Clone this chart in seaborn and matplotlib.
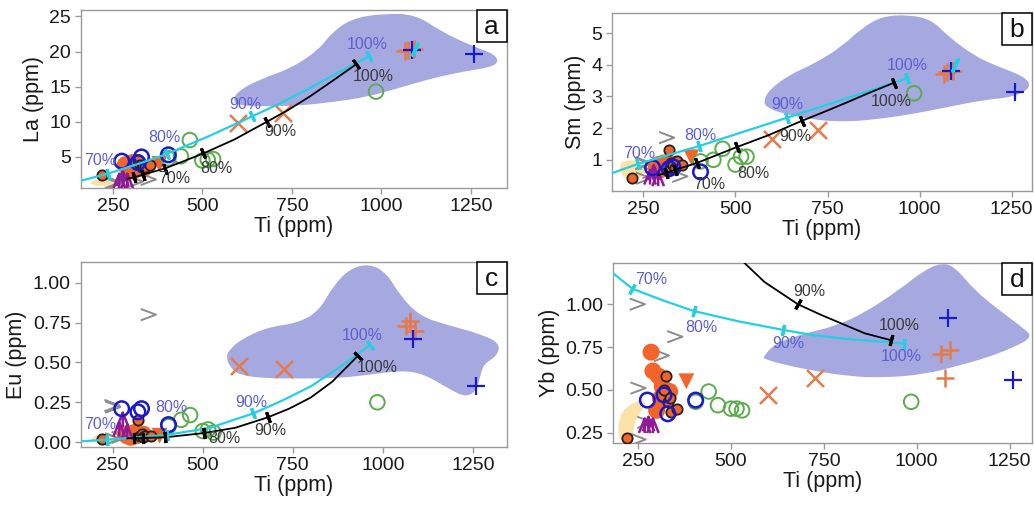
import numpy as np
import pandas as pd
import matplotlib
matplotlib.use("Agg")
import matplotlib.pyplot as plt
import seaborn as sns
from matplotlib.path import Path
from matplotlib.patches import Rectangle, PathPatch
from matplotlib.ticker import FormatStrFormatter

# ------------------------------------------------------------------ data
PANELS = ["a", "b", "c", "d"]
Y_LABELS = {"a": "La (ppm)", "b": "Sm (ppm)", "c": "Eu (ppm)", "d": "Yb (ppm)"}
X_LABEL = "Ti (ppm)"
X_TICKS = [250, 500, 750, 1000, 1250]
Y_TICKS = {"a": [5, 10, 15, 20, 25], "b": [1, 2, 3, 4, 5],
           "c": [0.00, 0.25, 0.50, 0.75, 1.00], "d": [0.25, 0.50, 0.75, 1.00]}

# model curve 1 (cyan)
CYAN_TI = [160, 235, 320, 400, 520, 640, 720, 800, 880, 965]
CYAN_VAL = {"a": [1.6, 2.6, 4.0, 5.4, 8.0, 10.8, 12.7, 14.8, 17.0, 19.3],
            "b": [0.56, 0.87, 1.16, 1.43, 1.88, 2.33, 2.63, 2.93, 3.24, 3.57],
            "c": [0.005, 0.015, 0.03, 0.045, 0.09, 0.18, 0.26, 0.35, 0.47, 0.61],
            "d": [1.22, 1.09, 1.02, 0.96, 0.90, 0.85, 0.82, 0.80, 0.785, 0.77]}
CYAN_TICK_TI = [235, 400, 640, 965]
CYAN_TICK_LABELS = ["70%", "80%", "90%", "100%"]

# model curve 2 (black)
BLACK_TI = [290, 310, 335, 395, 503, 590, 680, 740, 800, 860, 930]
BLACK_VAL = {"a": [1.9, 2.1, 2.5, 3.35, 5.5, 7.5, 10.0, 11.7, 13.6, 15.7, 18.2],
             "b": [0.52, 0.58, 0.68, 0.90, 1.40, 1.78, 2.23, 2.51, 2.80, 3.10, 3.43],
             "c": [0.025, 0.025, 0.027, 0.03, 0.057, 0.09, 0.155, 0.21, 0.28, 0.38, 0.54],
             "d": [np.nan, np.nan, np.nan, np.nan, 1.31, 1.13, 1.00, 0.94, 0.885, 0.83, 0.79]}
BLACK_TICK_TI = [310, 335, 395, 503, 680, 930]
BLACK_TICK_LABELS = ["", "", "70%", "80%", "90%", "100%"]

# sample groups
BLUE_O_TI = [275, 320, 330, 405]
BLUE_O = {"a": [4.4, 4.2, 5.0, 5.3], "b": [0.75, 0.72, 0.78, 0.62],
          "c": [0.21, 0.19, 0.21, 0.11], "d": [0.44, 0.47, 0.36, 0.44]}

GREEN_O_TI = [405, 440, 465, 500, 515, 530, 985]
GREEN_O = {"a": [4.8, 5.1, 7.4, 4.5, 4.6, 4.7, 14.3],
           "b": [0.95, 1.0, 1.35, 0.85, 1.1, 1.1, 3.1],
           "c": [0.10, 0.14, 0.17, 0.07, 0.08, 0.06, 0.25],
           "d": [0.43, 0.49, 0.41, 0.39, 0.39, 0.38, 0.43]}

ORANGE_X_TI = [600, 725]
ORANGE_X = {"a": [9.8, 11.3], "b": [1.65, 1.95], "c": [0.48, 0.46], "d": [0.47, 0.57]}

ORANGE_P_TI = [1065, 1075, 1090]
ORANGE_P = {"a": [20.1, 20.2, 20.3], "b": [3.72, 3.78, 3.80],
            "c": [0.73, 0.76, 0.70], "d": [0.71, 0.57, 0.73]}

BLUE_P_TI = [1085, 1260]
BLUE_P = {"a": [20.2, 19.6], "b": [3.8, 3.15], "c": [0.65, 0.35], "d": [0.92, 0.56]}

ORANGE_F_TI = [285, 290, 300, 305, 315, 335, 310]
ORANGE_F = {"a": [3.9, 3.5, 3.0, 4.2, 3.6, 3.3, 3.1],
            "b": [0.80, 0.85, 0.70, 0.90, 0.90, 0.85, 0.75],
            "c": [0.05, 0.04, 0.03, 0.05, 0.04, 0.05, 0.06],
            "d": [0.72, 0.61, 0.38, 0.58, 0.52, 0.49, 0.45]}

ORANGE_E_TI = [220, 320, 325, 330, 335, 340, 355]
ORANGE_E = {"a": [2.4, 4.6, 3.8, 3.5, 3.7, 3.6, 3.8],
            "b": [0.43, 1.30, 0.90, 0.85, 0.75, 0.95, 0.85],
            "c": [0.02, 0.14, 0.04, 0.05, 0.03, 0.04, 0.04],
            "d": [0.22, 0.50, 0.58, 0.43, 0.45, 0.37, 0.39]}

ORANGE_T_TI = [380]
ORANGE_T = {"a": [4.0], "b": [1.08], "c": [0.04], "d": [0.55]}

PURPLE_TI = [268, 278, 290]
PURPLE = {"a": [1.6, 1.9, 1.6], "b": [0.45, 0.60, 0.40],
          "c": [0.08, 0.14, 0.06], "d": [0.29, 0.30, 0.29]}

GRAY_TI = [248, 349, 313, 250, 268, 250]
GRAY = {"a": [1.3, 1.8, 1.5, 1.2, 1.0, 1.4],
        "b": [0.88, 0.48, 1.70, 0.42, 0.60, 0.90],
        "c": [0.23, 0.80, 0.03, 0.22, 0.03, 0.02],
        "d": [1.00, 0.81, 0.70, 0.51, 0.31, 0.21]}

CYAN_PT_TI = [1095]
CYAN_PT = {"a": [20.3], "b": [4.0], "c": [np.nan], "d": [np.nan]}

# field outlines (Ti, value)
FIELD_TI = {
    "a": [584, 603, 659, 751, 826, 863, 919, 1002, 1095, 1169, 1253, 1318, 1327, 1299, 1234, 1141, 1049, 956, 863, 770, 677, 603],
    "b": [577, 591, 645, 717, 789, 843, 898, 970, 1033, 1078, 1151, 1214, 1286, 1304, 1259, 1169, 1078, 988, 898, 807, 717, 627, 582],
    "c": [575, 603, 677, 769, 825, 862, 909, 964, 1011, 1048, 1103, 1187, 1270, 1326, 1317, 1280, 1270, 1261, 1233, 1187, 1113, 1048, 955, 862, 769, 677, 603, 575, 565],
    "d": [586, 618, 698, 779, 860, 950, 1021, 1066, 1102, 1156, 1219, 1281, 1313, 1263, 1192, 1111, 1021, 905, 815, 725, 636, 591],
}
FIELD_VAL = {
    "a": [13.1, 14.5, 16.0, 17.7, 20.3, 22.8, 24.7, 25.4, 25.3, 22.8, 20.8, 19.6, 18.4, 17.7, 17.2, 16.2, 14.8, 13.5, 12.8, 12.3, 12.2, 12.3],
    "b": [2.88, 3.2, 3.68, 4.05, 4.58, 5.16, 5.53, 5.58, 5.42, 4.89, 4.26, 3.94, 3.62, 3.3, 2.99, 2.88, 2.67, 2.46, 2.30, 2.20, 2.25, 2.46, 2.67],
    "c": [0.58, 0.64, 0.72, 0.75, 0.83, 0.98, 1.09, 1.12, 1.06, 0.92, 0.79, 0.73, 0.68, 0.62, 0.54, 0.49, 0.41, 0.33, 0.28, 0.33, 0.43, 0.45, 0.42, 0.40, 0.40, 0.40, 0.42, 0.47, 0.54],
    "d": [0.69, 0.77, 0.83, 0.87, 0.95, 1.08, 1.20, 1.24, 1.22, 1.08, 0.97, 0.87, 0.81, 0.75, 0.69, 0.64, 0.59, 0.57, 0.58, 0.61, 0.65, 0.68],
}

YELLOW_TI = {"a": [180, 230, 260, 250, 200],
             "b": [184, 230, 262, 258, 225, 190],
             "c": [185, 220, 260, 255, 200],
             "d": [268, 214, 195, 201, 236, 236, 246, 268]}
YELLOW_VAL = {"a": [1.5, 2.0, 1.6, 1.0, 0.8],
              "b": [0.95, 1.0, 0.9, 0.55, 0.35, 0.45],
              "c": [0.02, 0.06, 0.05, 0.0, -0.01],
              "d": [0.452, 0.40, 0.306, 0.19, 0.166, 0.265, 0.34, 0.40]}

# ------------------------------------------------------------------ style
POS = {"a": [0.078, 0.628, 0.412, 0.352], "b": [0.592, 0.622, 0.406, 0.352],
       "c": [0.078, 0.115, 0.412, 0.366], "d": [0.593, 0.123, 0.405, 0.356]}
XLIM = {"a": (160, 1350), "b": (165, 1305), "c": (161, 1344), "d": (183, 1310)}
YLIM = {"a": (0.6, 25.9), "b": (0.02, 5.63), "c": (-0.03, 1.13), "d": (0.19, 1.24)}
CYAN_OFF = {"a": [(-7, 13), (-2, 17), (-7, 12), (-2, 12)],
            "b": [(1, 10), (2, 11), (0, 13), (1, 13)],
            "c": [(-7, 15), (5, 27), (-2, 11), (-8, 9)],
            "d": [(19, 9), (8, -16), (5, -14), (-2, -13)]}
BLACK_OFF = {"a": [None, None, (9, -10), (13, -15), (14, -10), (17, -12)],
             "b": [None, None, (12, -21), (17, -26), (-6, -16), (-3, -19)],
             "c": [None, None, None, (21, -5), (3, -13), (20, -11)],
             "d": [None, None, None, None, (11, 13), (9, 15)]}

C_FIELD = "#a6a9e0"
C_CYAN = "#22d0e4"
C_CYAN_TXT = "#5d5fd0"
C_BLACK_TXT = "#3a3a3a"
C_BLUE = "#1a1acc"
C_GREEN = "#5aac4c"
C_ORANGE = "#f2642a"
C_ORANGE_X = "#e8794a"
C_GRAY = "#8c8c8c"
C_PURPLE = "#8e1a98"
C_YELLOW = "#fbe2a6"
C_SPINE = "#9a9a9a"

sns.set_theme(style="white")
plt.rcParams["font.family"] = ["Liberation Sans", "DejaVu Sans"]

LAMBDA = Path([(-0.8, -1), (0, 1), (0.8, -1), (0, 1), (0, -1)],
              [Path.MOVETO, Path.LINETO, Path.LINETO, Path.MOVETO, Path.LINETO])
CHEVRON = Path([(-1, 0.75), (1, 0), (-1, -0.75)],
               [Path.MOVETO, Path.LINETO, Path.LINETO])

fig = plt.figure(figsize=(10.34, 5.05), dpi=100)


def scat(ax, x, y, **kw):
    sns.scatterplot(x=x, y=y, ax=ax, legend=False, **kw)


def smooth_outline(xs, ys):
    """Closed outline drawn with quadratic Bezier segments through edge midpoints."""
    v = np.column_stack([xs, ys]).astype(float)
    n = len(v)
    mids = (v + np.roll(v, -1, axis=0)) / 2.0
    verts = [mids[-1]]
    codes = [Path.MOVETO]
    for i in range(n):
        verts += [v[i], mids[i]]
        codes += [Path.CURVE3, Path.CURVE3]
    verts.append(mids[-1])
    codes.append(Path.CLOSEPOLY)
    return Path(np.array(verts), codes)


def tick_marks(ax, xs, ys, tick_xs, color):
    pts = ax.transData.transform(np.column_stack([xs, ys]))
    for tx in tick_xs:
        i = xs.index(tx)
        if not np.isfinite(ys[i]):
            continue
        j0 = max(i - 1, 0)
        j1 = min(i + 1, len(xs) - 1)
        if not np.isfinite(ys[j0]):
            j0 = i
        p0, p1 = pts[j0], pts[j1]
        ang = np.degrees(np.arctan2(p1[1] - p0[1], p1[0] - p0[0]))
        ax.plot([xs[i]], [ys[i]], marker=(2, 2, ang), ms=8, mew=2.2,
                color=color, zorder=6, linestyle="none")


for p in PANELS:
    ax = fig.add_axes(POS[p])
    ax.set_xlim(*XLIM[p])
    ax.set_ylim(*YLIM[p])

    # fields
    ax.add_patch(PathPatch(smooth_outline(FIELD_TI[p], FIELD_VAL[p]),
                           facecolor=C_FIELD, lw=0, zorder=1))
    ax.add_patch(PathPatch(smooth_outline(YELLOW_TI[p], YELLOW_VAL[p]),
                           facecolor=C_YELLOW, lw=0, zorder=1.5))

    # samples
    scat(ax, GRAY_TI, GRAY[p], marker=CHEVRON, s=120, facecolors="none",
         edgecolor=C_GRAY, linewidth=1.4, zorder=2)
    scat(ax, ORANGE_F_TI, ORANGE_F[p], marker="o", s=150, color=C_ORANGE, edgecolor="none", zorder=2.5)
    scat(ax, ORANGE_T_TI, ORANGE_T[p], marker="v", s=130, color=C_ORANGE, edgecolor="none", zorder=2.5)
    scat(ax, ORANGE_E_TI, ORANGE_E[p], marker="o", s=55, color=C_ORANGE, edgecolor="#222222", linewidth=1.3, zorder=3)
    scat(ax, PURPLE_TI, PURPLE[p], marker=LAMBDA, s=110, facecolors="none", edgecolor=C_PURPLE, linewidth=1.8, zorder=3)
    scat(ax, GREEN_O_TI, GREEN_O[p], marker="o", s=110, facecolors="none", edgecolor=C_GREEN, linewidth=1.4, zorder=3)
    scat(ax, BLUE_O_TI, BLUE_O[p], marker="o", s=110, facecolors="none", edgecolor=C_BLUE, linewidth=1.8, zorder=3.2)
    scat(ax, ORANGE_X_TI, ORANGE_X[p], marker="x", s=150, color=C_ORANGE_X, linewidth=1.8, zorder=3)
    scat(ax, ORANGE_P_TI, ORANGE_P[p], marker="+", s=180, color=C_ORANGE_X, linewidth=1.8, zorder=3)
    scat(ax, BLUE_P_TI, BLUE_P[p], marker="+", s=180, color=C_BLUE, linewidth=1.6, zorder=3.3)
    scat(ax, CYAN_PT_TI, CYAN_PT[p], marker=(2, 2, -25), s=80, color=C_CYAN, linewidth=2.5, zorder=3.4)

    # model curves
    cyan = pd.DataFrame({"Ti": CYAN_TI, "v": CYAN_VAL[p]})
    black = pd.DataFrame({"Ti": BLACK_TI, "v": BLACK_VAL[p]}).dropna()
    sns.lineplot(data=cyan, x="Ti", y="v", ax=ax, color=C_CYAN, lw=1.6,
                 sort=False, estimator=None, zorder=5)
    sns.lineplot(data=black, x="Ti", y="v", ax=ax, color="black", lw=1.3,
                 sort=False, estimator=None, zorder=5)
    tick_marks(ax, CYAN_TI, CYAN_VAL[p], CYAN_TICK_TI, C_CYAN)
    tick_marks(ax, BLACK_TI, BLACK_VAL[p], BLACK_TICK_TI, "black")

    for k, tx in enumerate(CYAN_TICK_TI):
        off = CYAN_OFF[p][k]
        if off is None:
            continue
        i = CYAN_TI.index(tx)
        ax.annotate(CYAN_TICK_LABELS[k], (CYAN_TI[i], CYAN_VAL[p][i]), xytext=off,
                    textcoords="offset pixels", ha="center", va="center",
                    fontsize=11.5, color=C_CYAN_TXT, zorder=7, annotation_clip=False)
    for k, tx in enumerate(BLACK_TICK_TI):
        off = BLACK_OFF[p][k]
        if off is None or not BLACK_TICK_LABELS[k]:
            continue
        i = BLACK_TI.index(tx)
        ax.annotate(BLACK_TICK_LABELS[k], (BLACK_TI[i], BLACK_VAL[p][i]), xytext=off,
                    textcoords="offset pixels", ha="center", va="center",
                    fontsize=11.5, color=C_BLACK_TXT, zorder=7, annotation_clip=False)

    # axes styling
    ax.set_xticks(X_TICKS)
    ax.set_yticks(Y_TICKS[p])
    if p in ("c", "d"):
        ax.yaxis.set_major_formatter(FormatStrFormatter("%.2f"))
    ax.tick_params(axis="both", direction="out", length=4, width=1,
                   color=C_SPINE, labelsize=14, labelcolor="#1a1a1a", pad=3,
                   bottom=True, left=True)
    for s in ax.spines.values():
        s.set_color(C_SPINE)
        s.set_linewidth(1.0)
    ax.set_xlabel(X_LABEL, fontsize=15.5, color="#1a1a1a", labelpad=1)
    ax.set_ylabel(Y_LABELS[p], fontsize=15.5, color="#1a1a1a", labelpad=4)

    # panel letter box (flush with upper-right corner)
    bb = ax.get_window_extent()
    w, h = 30 / bb.width, 32 / bb.height
    ax.add_patch(Rectangle((1 - w, 1 - h), w, h, transform=ax.transAxes,
                           facecolor="white", edgecolor="black", lw=1.1, zorder=8,
                           clip_on=False))
    ax.text(1 - w / 2, 1 - h / 2 - 0.005, p, transform=ax.transAxes, ha="center",
            va="center", fontsize=19, color="#111111", zorder=9)

fig.savefig("out.png", dpi=100)
